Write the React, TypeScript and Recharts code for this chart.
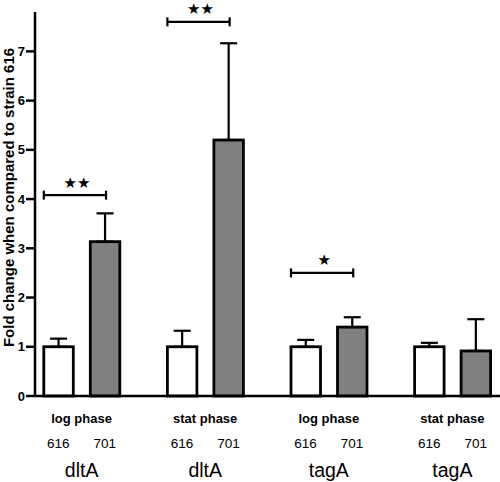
import React from 'react';
import { BarChart, Bar, XAxis, YAxis, ErrorBar } from 'recharts';

const categories = ['dltA-log', 'dltA-stat', 'tagA-log', 'tagA-stat'];
const genes = ['dltA', 'dltA', 'tagA', 'tagA'];
const phases = ['log phase', 'stat phase', 'log phase', 'stat phase'];
const strainLabels = ['616', '701'];
const mean616 = [1.0, 1.0, 1.0, 1.0];
const err616 = [0.165, 0.325, 0.14, 0.08];
const mean701 = [3.135, 5.2, 1.4, 0.915];
const err701 = [0.575, 1.965, 0.2, 0.645];
const sigLevel: (number | null)[] = [4.08, 7.6, 2.5, null];
const sigStars = ['★★', '★★', '★', ''];
const yTicks = [0, 1, 2, 3, 4, 5, 6, 7];

const data = categories.map((c, i) => ({
  cat: c,
  m616: mean616[i],
  m701: mean701[i],
  e616: [0, err616[i]],
  e701: [0, err701[i]],
  sig: sigLevel[i],
  stars: sigStars[i],
}));

const FONT = 'Liberation Sans, Arial, Helvetica, sans-serif';
const BAR_SIZE = 29.5;
const BAR_GAP = 17;
const BAR_STROKE = 2.8;

const WhiteBar = (props: any) => {
  const { x, y, width, height, payload } = props;
  const base = y + height;
  const pxPerUnit = payload.m616 ? height / payload.m616 : 0;
  let bracket = null;
  if (payload.sig != null) {
    const by = base - payload.sig * pxPerUnit;
    const x1 = x;
    const x2 = x + width + BAR_GAP + width / 2 + 1;
    bracket = (
      <g>
        <line x1={x1} y1={by} x2={x2} y2={by} stroke="#000" strokeWidth={2.2} />
        <line x1={x1} y1={by - 4.5} x2={x1} y2={by + 4.5} stroke="#000" strokeWidth={2.2} />
        <line x1={x2} y1={by - 4.5} x2={x2} y2={by + 4.5} stroke="#000" strokeWidth={2.2} />
        <text
          x={(x1 + x2) / 2 + 2}
          y={by - 7.5}
          textAnchor="middle"
          fontSize={15}
          fontFamily="DejaVu Sans, sans-serif"
          fill="#000"
        >
          {payload.stars}
        </text>
      </g>
    );
  }
  return (
    <g>
      <rect x={x} y={y} width={width} height={height} fill="#ffffff" stroke="#000" strokeWidth={BAR_STROKE} />
      {bracket}
    </g>
  );
};

const GrayBar = (props: any) => {
  const { x, y, width, height } = props;
  return <rect x={x} y={y} width={width} height={height} fill="#808080" stroke="#000" strokeWidth={BAR_STROKE} />;
};

const XTick = (props: any) => {
  const { x, y, payload } = props;
  const i = payload.index;
  const half = (BAR_SIZE + BAR_GAP) / 2;
  return (
    <g fontFamily={FONT} fill="#000">
      <text x={x} y={y + 26.5} textAnchor="middle" fontSize={13} fontWeight="bold">
        {phases[i]}
      </text>
      <text x={x - half} y={y + 52} textAnchor="middle" fontSize={13.5}>
        {strainLabels[0]}
      </text>
      <text x={x + half} y={y + 52} textAnchor="middle" fontSize={13.5}>
        {strainLabels[1]}
      </text>
      <text x={x} y={y + 80.5} textAnchor="middle" fontSize={19.5}>
        {genes[i]}
      </text>
    </g>
  );
};

const YLabel = () => (
  <text
    x={14}
    y={197.5}
    transform="rotate(-90 14 197.5)"
    textAnchor="middle"
    fontSize={15}
    fontWeight="bold"
    fontFamily={FONT}
    fill="#000"
  >
    Fold change when compared to strain 616
  </text>
);

export default function App() {
  return (
    <div style={{ position: 'absolute', left: 0, top: 0, background: '#fff' }}>
      <BarChart
        width={500}
        height={482}
        data={data}
        margin={{ top: 12, right: 0, bottom: 0, left: 0 }}
        barSize={BAR_SIZE}
        barGap={BAR_GAP}
      >
        <XAxis
          dataKey="cat"
          interval={0}
          height={86}
          tickLine={false}
          tickSize={0}
          tickMargin={0}
          axisLine={{ stroke: '#000', strokeWidth: 2.5 }}
          padding={{ left: -15.2, right: -14.2 }}
          tick={<XTick />}
        />
        <YAxis
          width={35}
          domain={[0, 7.8]}
          ticks={yTicks}
          axisLine={{ stroke: '#000', strokeWidth: 2.5 }}
          tickLine={{ stroke: '#000', strokeWidth: 2.5 }}
          tickSize={9}
          tickMargin={1}
          tick={{ fill: '#000', fontSize: 13, fontWeight: 'bold', fontFamily: FONT }}
          label={{ content: () => <YLabel /> }}
        />
        <Bar dataKey="m616" shape={<WhiteBar />} isAnimationActive={false}>
          <ErrorBar dataKey="e616" width={8.5} stroke="#000" strokeWidth={2.2} direction="y" />
        </Bar>
        <Bar dataKey="m701" shape={<GrayBar />} isAnimationActive={false}>
          <ErrorBar dataKey="e701" width={8.5} stroke="#000" strokeWidth={2.2} direction="y" />
        </Bar>
      </BarChart>
    </div>
  );
}
